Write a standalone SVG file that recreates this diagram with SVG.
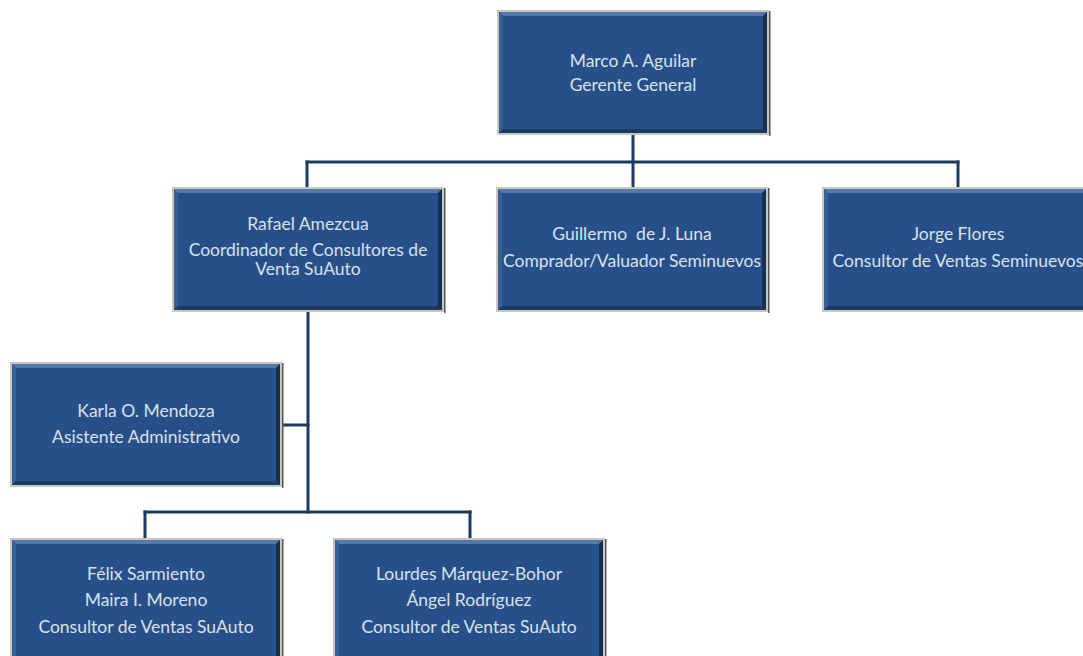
<svg xmlns="http://www.w3.org/2000/svg" xmlns:xlink="http://www.w3.org/1999/xlink" width="1083" height="656" viewBox="0 0 1083 656">
  <defs>
    <style>
      .link { fill: none; stroke: #1d3a62; stroke-width: 3; stroke-linecap: square; }
      .label { font-family: "Lato", "Liberation Sans", sans-serif; font-size: 17.5px; fill: #d9e1eb; text-anchor: middle; }
    </style>
    <!-- bevelled org-chart box, 272 x 125 -->
    <symbol id="box" viewBox="0 0 272 125" width="272" height="125" overflow="visible">
      <rect x="0" y="0" width="272" height="125" fill="#c8c8bf"/>
      <rect x="2" y="2" width="268" height="121" fill="#27508a"/>
      <polygon points="2,2 270,2 266,6 6,6" fill="#5479aa"/>
      <polygon points="2,2 6,6 6,119 2,123" fill="#375f93"/>
      <polygon points="270,2 270,123 266,119 266,6" fill="#15304f"/>
      <polygon points="2,123 270,123 266,119 6,119" fill="#1b3b63"/>
      <rect x="272" y="1" width="1.5" height="125" fill="#555"/>
    </symbol>
  </defs>
  <rect width="1083" height="656" fill="#ffffff"/>

  <g id="connectors">
    <path class="link" d="M633,135 V187"/>
    <path class="link" d="M307,162 H958"/>
    <path class="link" d="M307,162 V187"/>
    <path class="link" d="M958,162 V187"/>
    <path class="link" d="M308,312 V512"/>
    <path class="link" d="M282,425 H308"/>
    <path class="link" d="M145,512 H470"/>
    <path class="link" d="M145,512 V538"/>
    <path class="link" d="M470,512 V538"/>
  </g>

  <g id="gerente-general">
    <use xlink:href="#box" href="#box" x="497" y="10"/>
    <text class="label" x="633" y="67">Marco A. Aguilar</text>
    <text class="label" x="633" y="91">Gerente General</text>
  </g>

  <g id="coordinador">
    <use xlink:href="#box" href="#box" x="172" y="187"/>
    <text class="label" x="308" y="230">Rafael Amezcua</text>
    <text class="label" x="308" y="256">Coordinador de Consultores de</text>
    <text class="label" x="308" y="275">Venta SuAuto</text>
  </g>

  <g id="comprador">
    <use xlink:href="#box" href="#box" x="496" y="187"/>
    <text class="label" x="632" y="240" xml:space="preserve">Guillermo  de J. Luna</text>
    <text class="label" x="632" y="267">Comprador/Valuador Seminuevos</text>
  </g>

  <g id="consultor-seminuevos">
    <use xlink:href="#box" href="#box" x="822" y="187"/>
    <text class="label" x="958" y="240">Jorge Flores</text>
    <text class="label" x="958" y="267">Consultor de Ventas Seminuevos</text>
  </g>

  <g id="asistente">
    <use xlink:href="#box" href="#box" x="10" y="362"/>
    <text class="label" x="146" y="417">Karla O. Mendoza</text>
    <text class="label" x="146" y="443">Asistente Administrativo</text>
  </g>

  <g id="consultores-a">
    <use xlink:href="#box" href="#box" x="10" y="538"/>
    <text class="label" x="146" y="580">Félix Sarmiento</text>
    <text class="label" x="146" y="606">Maira I. Moreno</text>
    <text class="label" x="146" y="633">Consultor de Ventas SuAuto</text>
  </g>

  <g id="consultores-b">
    <use xlink:href="#box" href="#box" x="333" y="538"/>
    <text class="label" x="469" y="580">Lourdes Márquez-Bohor</text>
    <text class="label" x="469" y="606">Ángel Rodríguez</text>
    <text class="label" x="469" y="633">Consultor de Ventas SuAuto</text>
  </g>
</svg>
